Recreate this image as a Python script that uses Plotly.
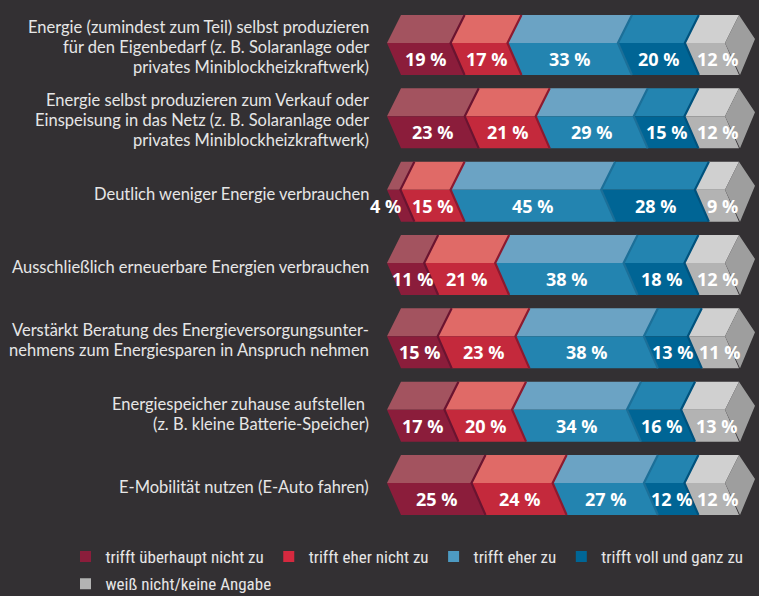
import plotly.graph_objects as go

# ---------------- data ----------------
categories = [
    "Energie (zumindest zum Teil) selbst produzieren<br>für den Eigenbedarf (z. B. Solaranlage oder<br>privates Miniblockheizkraftwerk)",
    "Energie selbst produzieren zum Verkauf oder<br>Einspeisung in das Netz (z. B. Solaranlage oder<br>privates Miniblockheizkraftwerk)",
    "Deutlich weniger Energie verbrauchen",
    "Ausschließlich erneuerbare Energien verbrauchen",
    "Verstärkt Beratung des Energieversorgungsunter-<br>nehmens zum Energiesparen in Anspruch nehmen",
    "Energiespeicher zuhause aufstellen <br>(z. B. kleine Batterie-Speicher)",
    "E-Mobilität nutzen (E-Auto fahren)",
]
series_names = [
    "trifft überhaupt nicht zu",
    "trifft eher nicht zu",
    "trifft eher zu",
    "trifft voll und ganz zu",
    "weiß nicht/keine Angabe",
]
trifft_ueberhaupt_nicht_zu = [19, 23, 4, 11, 15, 17, 25]
trifft_eher_nicht_zu = [17, 21, 15, 21, 23, 20, 24]
trifft_eher_zu = [33, 29, 45, 38, 38, 34, 27]
trifft_voll_und_ganz_zu = [20, 15, 28, 18, 13, 16, 12]
weiss_nicht = [12, 12, 9, 12, 11, 13, 12]
series_values = [trifft_ueberhaupt_nicht_zu, trifft_eher_nicht_zu, trifft_eher_zu,
                 trifft_voll_und_ganz_zu, weiss_nicht]

# ---------------- styles ----------------
BG = "#333033"
top_colors = ["#a3535f", "#e06a67", "#6ba3c4", "#2384b0", "#d0d0d0"]
front_colors = ["#8b1d3b", "#c4293c", "#2384b0", "#006595", "#b3b3b3"]
edge_colors = ["#6a1430", "#8c1a2f", "#1c6f98", "#00527d", "#9e9e9e"]
legend_colors = ["#8b1d3b", "#d5293f", "#4d9ac2", "#006696", "#b3b3b3"]
CAP_COLOR = "#9e9e9e"

W, H = 759, 596
X0_PX, PX_PER_PCT = 401.0, 3.38       # value axis scale
Y0_PX, ROW_PX = 45.0, 73.33           # row axis scale
LABEL_RIGHT_PX = 371.0
LINE_PX = 20.0

def ux(px):  # pixel distance -> value units
    return px / PX_PER_PCT

def uy(px):  # pixel distance -> row units
    return px / ROW_PX

x_range = [ux(0 - X0_PX), ux(W - X0_PX)]
y_range = [uy(H - Y0_PX), uy(0 - Y0_PX)]

D = ux(14)          # chevron depth
T, M, B = uy(-30), uy(-2), uy(30)   # top, middle, bottom offsets of a bar

fig = go.Figure()

n_rows = len(categories)
n_ser = len(series_values)
bounds = []
for i in range(n_rows):
    vals = [s[i] for s in series_values]
    tot = sum(vals)
    cum = [0.0]
    for v in vals:
        cum.append(cum[-1] + v * 100.0 / tot)
    bounds.append(cum)

# faces
for j in range(n_ser):
    tx, ty, fx, fy = [], [], [], []
    for i in range(n_rows):
        a, b = bounds[i][j], bounds[i][j + 1]
        tx += [a, b, b - D, a - D, a, None]
        ty += [i + T, i + T, i + M, i + M, i + T, None]
        fx += [a - D, b - D, b, a, a - D, None]
        fy += [i + M, i + M, i + B, i + B, i + M, None]
    fig.add_trace(go.Scatter(x=tx, y=ty, fill="toself", fillcolor=top_colors[j],
                             mode="lines", line=dict(width=0, color=top_colors[j]),
                             showlegend=False, hoverinfo="skip"))
    fig.add_trace(go.Scatter(x=fx, y=fy, fill="toself", fillcolor=front_colors[j],
                             mode="lines", line=dict(width=0, color=front_colors[j]),
                             showlegend=False, hoverinfo="skip"))

# end caps
cx, cy = [], []
for i in range(n_rows):
    e = bounds[i][-1]
    cx += [e, e + ux(16), e + ux(1), e - D, e, None]
    cy += [i + T, i + uy(-6), i + B, i + M, i + T, None]
fig.add_trace(go.Scatter(x=cx, y=cy, fill="toself", fillcolor=CAP_COLOR, mode="lines",
                         line=dict(width=0, color=CAP_COLOR), showlegend=False,
                         hoverinfo="skip"))

# segment edges
for j in range(n_ser - 1):
    ex, ey = [], []
    for i in range(n_rows):
        b = bounds[i][j + 1]
        ex += [b, b - D, b, None]
        ey += [i + T, i + M, i + B, None]
    fig.add_trace(go.Scatter(x=ex, y=ey, mode="lines",
                             line=dict(width=2.2, color=edge_colors[j]),
                             showlegend=False, hoverinfo="skip"))

# legend entries
for j in range(n_ser):
    fig.add_trace(go.Scatter(x=[None], y=[None], mode="markers", name=series_names[j],
                             marker=dict(symbol="square", size=11, color=legend_colors[j]),
                             legend="legend" if j < 4 else "legend2"))

annotations = []
# value labels
for i in range(n_rows):
    for j in range(n_ser):
        v = series_values[j][i]
        a, b = bounds[i][j], bounds[i][j + 1]
        if j == n_ser - 1:
            xc, anchor = (a - D + b + ux(16)) / 2 - ux(2), "center"
        elif v < 6:
            xc, anchor = b - ux(11), "right"
        else:
            xc, anchor = (a + b) / 2 - D / 2, "center"
        annotations.append(dict(x=xc, y=i + (M + B) / 2, xref="x", yref="y",
                                text=f"{v} %", showarrow=False, xanchor=anchor,
                                yanchor="middle",
                                font=dict(family="Open Sans", size=18, color="white",
                                          weight="bold")))
# category labels (one annotation per line for tight line spacing)
for i, c in enumerate(categories):
    lines = c.split("<br>")
    n = len(lines)
    for k, ln in enumerate(lines):
        off = (k - (n - 1) / 2) * LINE_PX + 2
        annotations.append(dict(x=ux(LABEL_RIGHT_PX - X0_PX), y=i + uy(off), xref="x",
                                yref="y", text=ln, showarrow=False, xanchor="right",
                                yanchor="middle", align="right",
                                font=dict(family="Lato", size=16.5, color="#e6e6e6")))

legend_font = dict(family="Liberation Sans Narrow, Roboto Condensed, DejaVu Sans Condensed, Roboto",
                   size=17, color="#e6e6e6")
fig.update_layout(
    width=W, height=H, margin=dict(l=0, r=0, t=0, b=0, autoexpand=False),
    paper_bgcolor=BG, plot_bgcolor=BG,
    xaxis=dict(range=x_range, visible=False, fixedrange=True),
    yaxis=dict(range=y_range, visible=False, fixedrange=True),
    annotations=annotations,
    legend=dict(orientation="h", x=0.0863, y=0.0956, xanchor="left", yanchor="top",
                bgcolor="rgba(0,0,0,0)", font=legend_font),
    legend2=dict(orientation="h", x=0.0863, y=0.05, xanchor="left", yanchor="top",
                 bgcolor="rgba(0,0,0,0)", font=legend_font),
    showlegend=True,
)

fig.write_html("out.html", config={"displayModeBar": False},
               post_script="document.body.style.margin='0';document.body.style.overflow='hidden';")
